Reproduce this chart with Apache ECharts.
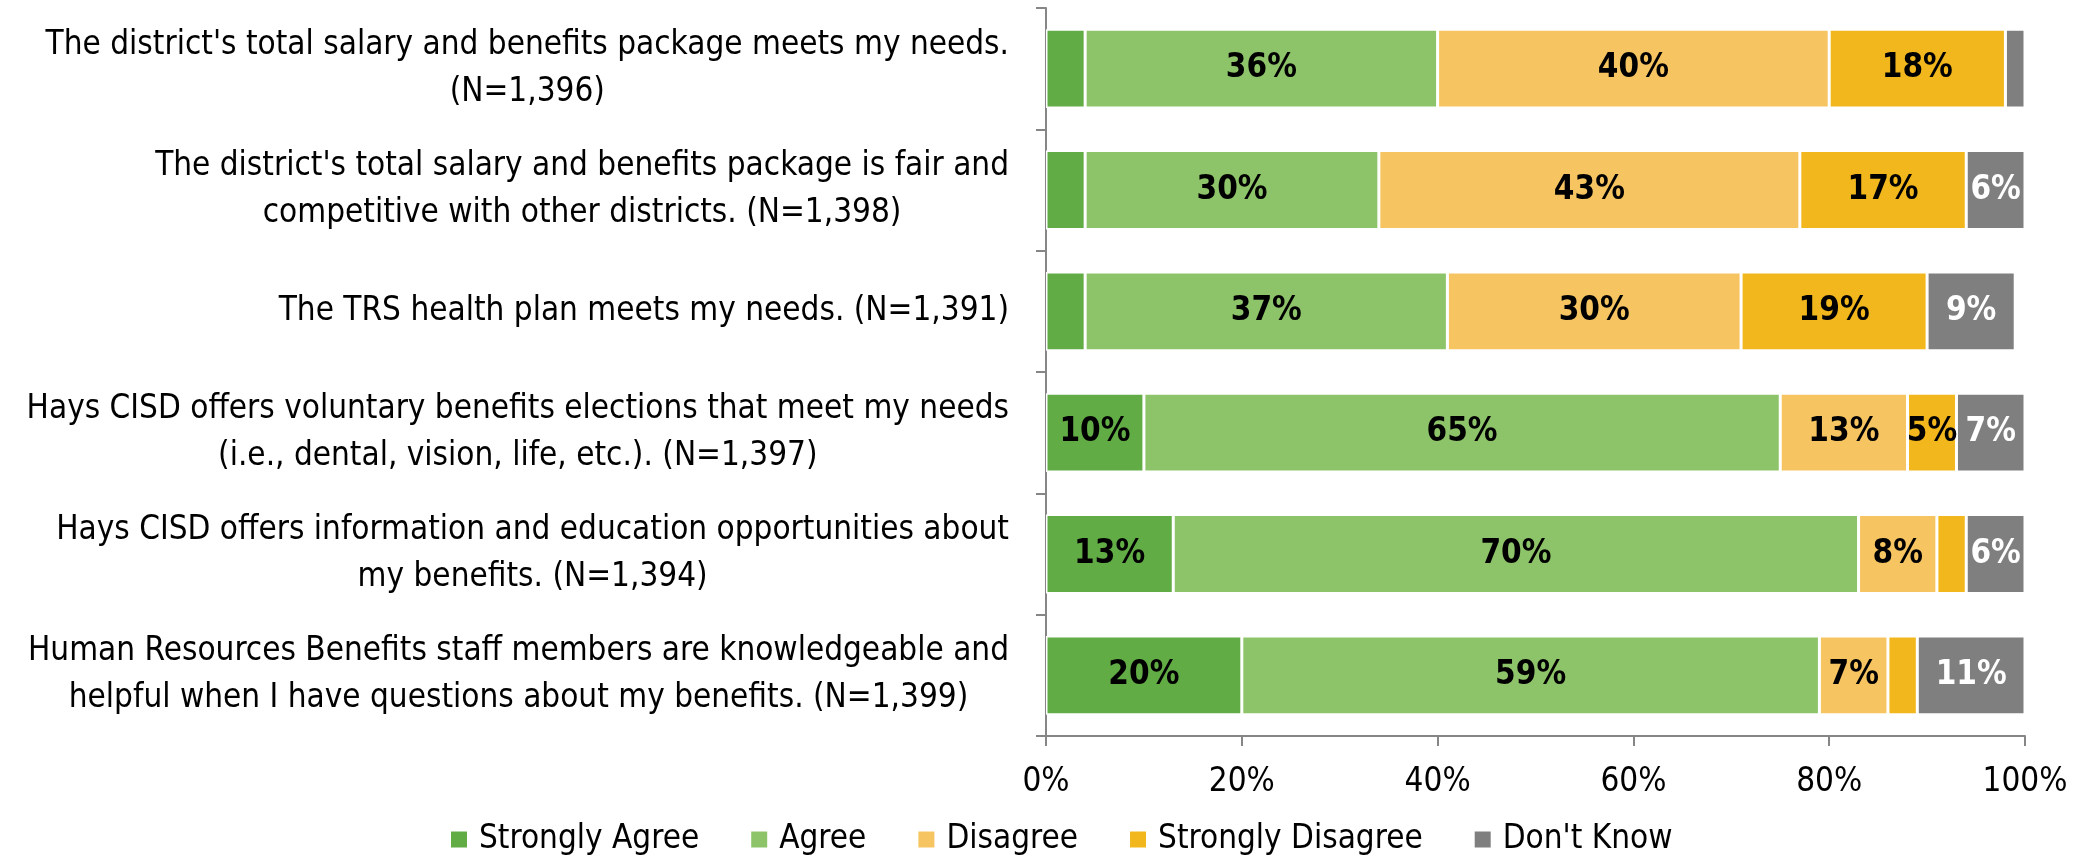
<!DOCTYPE html>
<html>
<head>
<meta charset="utf-8">
<script src="https://cdn.jsdelivr.net/npm/echarts@6/dist/echarts.min.js"></script>
<style>
  html, body { margin: 0; padding: 0; background: #ffffff; }
  #chart { width: 2090px; height: 857px; }
</style>
</head>
<body>
<div id="chart"></div>
<script>
// Survey statements (top to bottom), line breaks as laid out on the axis
const statements = [
  "The district's total salary and benefits package meets my needs.\n(N=1,396)",
  "The district's total salary and benefits package is fair and\ncompetitive with other districts. (N=1,398)",
  "The TRS health plan meets my needs. (N=1,391)",
  "Hays CISD offers voluntary benefits elections that meet my needs\n(i.e., dental, vision, life, etc.). (N=1,397)",
  "Hays CISD offers information and education opportunities about\nmy benefits. (N=1,394)",
  "Human Resources Benefits staff members are knowledgeable and\nhelpful when I have questions about my benefits. (N=1,399)"
];

// Response shares (%) per statement
const stronglyAgree    = [4, 4, 4, 10, 13, 20];
const agree            = [36, 30, 37, 65, 70, 59];
const disagree         = [40, 43, 30, 13, 8, 7];
const stronglyDisagree = [18, 17, 19, 5, 3, 3];
const dontKnow         = [2, 6, 9, 7, 6, 11];

const xTicks = [0, 20, 40, 60, 80, 100];

const FONT = "'Liberation Sans Narrow', 'DejaVu Sans Condensed', 'Open Sans', sans-serif";
const FS = 33;

const responses = [
  { name: 'Strongly Agree',    data: stronglyAgree,    color: '#62ac46', labelColor: '#000000' },
  { name: 'Agree',             data: agree,            color: '#8ec469', labelColor: '#000000' },
  { name: 'Disagree',          data: disagree,         color: '#f6c561', labelColor: '#000000' },
  { name: 'Strongly Disagree', data: stronglyDisagree, color: '#f2b71d', labelColor: '#000000' },
  { name: "Don't Know",        data: dontKnow,         color: '#7f7f7f', labelColor: '#ffffff' }
];

const chart = echarts.init(document.getElementById('chart'), null, { renderer: 'canvas' });

chart.setOption({
  backgroundColor: '#ffffff',
  animation: false,
  textStyle: { fontFamily: FONT },
  grid: { left: 1046, right: 65, top: 8, bottom: 121, containLabel: false },
  legend: {
    top: 818,
    left: 444,
    itemWidth: 18,
    itemHeight: 18,
    itemGap: 50,
    icon: 'rect',
    textStyle: { fontFamily: FONT, fontSize: FS, color: '#000000', padding: [0, 0, 0, 6] },
    data: responses.map(r => r.name)
  },
  xAxis: {
    type: 'value',
    min: 0,
    max: 100,
    interval: 20,
    axisLine: { show: true, lineStyle: { color: '#868686', width: 2 } },
    axisTick: { show: true, length: 10, lineStyle: { color: '#868686', width: 2 } },
    splitLine: { show: false },
    axisLabel: {
      fontFamily: FONT,
      fontSize: FS,
      color: '#000000',
      margin: 30,
      formatter: v => (xTicks.indexOf(v) >= 0 ? v + '%' : '')
    }
  },
  yAxis: {
    type: 'category',
    inverse: true,
    data: statements,
    axisLine: { show: true, lineStyle: { color: '#868686', width: 2 } },
    axisTick: { show: true, length: 10, inside: false, lineStyle: { color: '#868686', width: 2 } },
    axisLabel: {
      margin: 37,
      align: 'right',
      fontFamily: FONT,
      fontSize: FS,
      color: '#000000',
      lineHeight: 47,
      formatter: v => v.split('\n').map(line => '{c|' + line + '}').join('\n'),
      rich: {
        c: { align: 'center', fontFamily: FONT, fontSize: FS, color: '#000000', lineHeight: 47 }
      }
    }
  },
  series: responses.map(r => ({
    name: r.name,
    type: 'bar',
    stack: 'total',
    barCategoryGap: '35%',
    data: r.data,
    itemStyle: { color: r.color, borderColor: '#ffffff', borderWidth: 1.5 },
    label: {
      show: true,
      position: 'inside',
      fontFamily: FONT,
      fontSize: FS,
      fontWeight: 'bold',
      color: r.labelColor,
      formatter: p => (p.value >= 5 ? p.value + '%' : '')
    }
  }))
});
</script>
</body>
</html>
